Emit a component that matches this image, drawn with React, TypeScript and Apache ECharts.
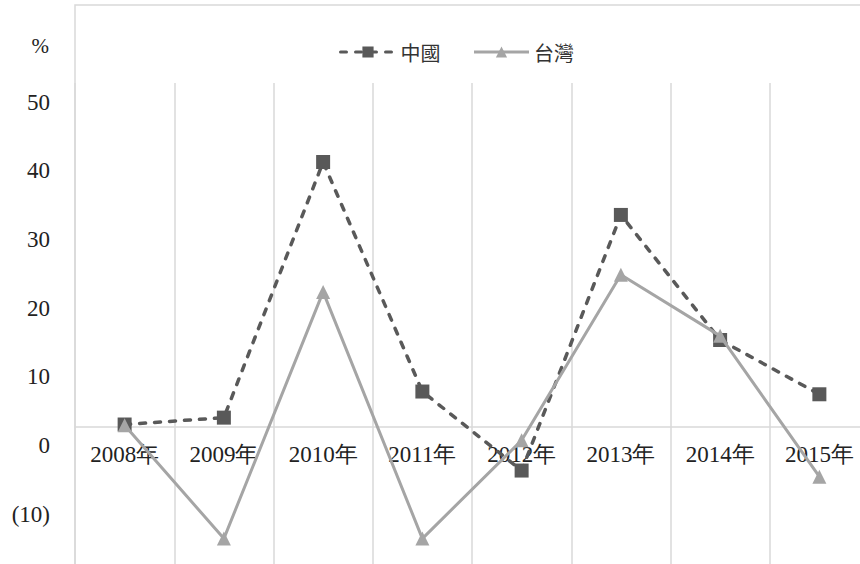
import React, { useEffect, useRef } from "react";
import * as echarts from "echarts";

const categories = ["2008年", "2009年", "2010年", "2011年", "2012年", "2013年", "2014年", "2015年"];
const chinaValues = [0.3, 1.3, 38.5, 5.1, -6.4, 30.8, 12.6, 4.7];
const taiwanValues = [0.2, -16.3, 19.6, -16.3, -2.0, 22.1, 13.2, -7.3];
const seriesNames = ["中國", "台灣"];
const tickLabelValues = { min: -10, max: 50, step: 10 };
const unitLabel = "%";

const SERIF = "serif";
const SANS = "Noto Sans CJK TC";

export default function App() {
  const ref = useRef<HTMLDivElement>(null);
  useEffect(() => {
    if (!ref.current) return;
    const chart = echarts.init(ref.current, undefined, { renderer: "svg" });
    chart.setOption({
      animation: false,
      backgroundColor: "#ffffff",
      legend: {
        left: 334,
        top: 37,
        itemWidth: 55,
        itemHeight: 14,
        itemGap: 32,
        textStyle: { fontFamily: SANS, fontSize: 20, color: "#333333" },
        lineStyle: { width: 3 },
        data: seriesNames,
      },
      graphic: [
        {
          type: "rect",
          shape: { x: 75, y: 5, width: 900, height: 700 },
          style: { fill: "none", stroke: "#d9d9d9", lineWidth: 1.5 },
          silent: true,
          z: -1,
        },
        {
          type: "text",
          x: 49,
          y: 46,
          style: {
            text: unitLabel,
            fontFamily: SERIF,
            fontSize: 21,
            fill: "#222",
            align: "right",
            verticalAlign: "middle",
          },
        },
      ],
      grid: [
        { left: 75, top: 83, right: -9, bottom: 0, outerBoundsMode: "none", containLabel: false },
        { left: 75, top: 102, right: -9, height: 412, outerBoundsMode: "none", containLabel: false },
        { left: 75, top: 83, right: -9, height: 344, outerBoundsMode: "none", containLabel: false },
      ],
      xAxis: [
        {
          type: "category",
          gridIndex: 0,
          data: categories,
          boundaryGap: true,
          axisLine: { onZero: true, lineStyle: { color: "#d9d9d9", width: 1.5 } },
          axisTick: { show: false },
          axisLabel: { show: false },
          splitLine: { show: true, lineStyle: { color: "#d9d9d9", width: 1.5 } },
        },
        {
          type: "category",
          gridIndex: 1,
          data: categories,
          show: false,
        },
        {
          type: "category",
          gridIndex: 2,
          data: categories,
          position: "bottom",
          boundaryGap: true,
          axisLine: { show: false },
          axisTick: { show: false },
          splitLine: { show: false },
          axisLabel: { interval: 0, fontFamily: SERIF, fontSize: 23, color: "#222", margin: 16 },
        },
      ],
      yAxis: [
        {
          type: "value",
          gridIndex: 0,
          min: -20,
          max: 50,
          show: false,
          splitLine: { show: false },
        },
        {
          type: "value",
          gridIndex: 1,
          min: tickLabelValues.min,
          max: tickLabelValues.max,
          interval: tickLabelValues.step,
          axisLine: { show: false },
          axisTick: { show: false },
          splitLine: { show: false },
          axisLabel: {
            fontFamily: SERIF,
            fontSize: 23,
            color: "#222",
            margin: 25,
            formatter: (v: number) => (v < 0 ? `(${-v})` : `${v}`),
          },
        },
        {
          type: "value",
          gridIndex: 2,
          min: 0,
          max: 50,
          show: false,
          splitLine: { show: false },
        },
      ],
      series: [
        {
          name: seriesNames[0],
          type: "line",
          xAxisIndex: 0,
          yAxisIndex: 0,
          data: chinaValues,
          symbol: "rect",
          symbolSize: 14,
          itemStyle: { color: "#595959" },
          lineStyle: { color: "#595959", width: 3.5, type: [6, 9], cap: "round" },
          z: 2,
        },
        {
          name: seriesNames[1],
          type: "line",
          xAxisIndex: 0,
          yAxisIndex: 0,
          data: taiwanValues,
          symbol: "triangle",
          symbolSize: 14,
          itemStyle: { color: "#a5a5a5" },
          lineStyle: { color: "#a5a5a5", width: 3 },
          z: 3,
        },
      ],
    });
    return () => chart.dispose();
  }, []);
  return (
    <div
      ref={ref}
      style={{ position: "fixed", left: 0, top: 0, width: 860, height: 564, background: "#fff" }}
    />
  );
}
